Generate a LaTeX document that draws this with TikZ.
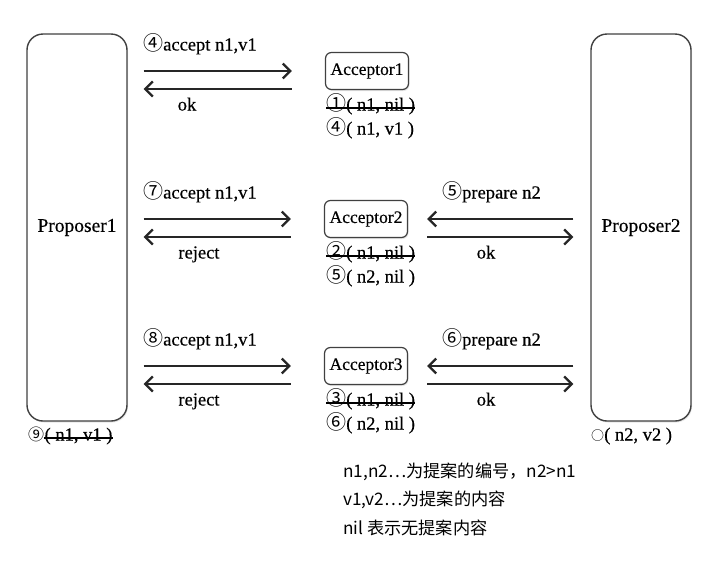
\documentclass[tikz,border=0pt]{standalone}
\usepackage{fontspec}
\setmainfont{Liberation Serif}[FakeBold=0.35]
\newfontfamily\cjk{Noto Sans CJK SC}
\usetikzlibrary{arrows.meta,calc,shadows}
\newcommand{\cn}[1]{{\cjk\fontsize{20}{22}\selectfont #1}}
\begin{document}
\begin{tikzpicture}[x=1pt,y=-1pt,
  prop/.style={draw=black!75, line width=1.4pt, rounded corners=16pt, fill=white,
    minimum width=100pt, minimum height=387pt, font=\fontsize{19.5}{22}\selectfont,
    drop shadow={opacity=0.2, shadow xshift=1pt, shadow yshift=-1.5pt}},
  acc/.style={draw=black!75, line width=1.2pt, rounded corners=6pt, fill=white,
    minimum width=83pt, minimum height=37pt, font=\fontsize{17.5}{20}\selectfont,
    drop shadow={opacity=0.2, shadow xshift=1pt, shadow yshift=-1.5pt}},
  lbl/.style={font=\fontsize{18.5}{21}\selectfont, inner sep=0pt, text height=0.72em, text depth=0.22em},
  leg/.style={font=\cjk\fontsize{17.2}{20}\selectfont, inner sep=0pt, anchor=west},
  msg/.style={line width=1.5pt, draw=black!85, -{Straight Barb[length=7.5pt,width=15pt,line width=2.3pt]}},
  strike/.style={line width=1.2pt}]
\useasboundingbox (0,0) rectangle (720,571);

% proposers
\node[prop] (p1) at (77,227.5) {Proposer1};
\node[prop] (p2) at (641,227.5) {Proposer2};

% acceptors
\node[acc] (a1) at (367,71) {Acceptor1};
\node[acc] (a2) at (366,219) {Acceptor2};
\node[acc] (a3) at (366,366) {Acceptor3};

% row 1
\draw[msg] ([xshift=16pt]p1.east |- a1.west) -- ($(a1.west)+(-33,0)$);
\draw[msg] ($(a1.west)+(-33,18)$) -- ($(p1.east |- a1.west)+(16,18)$);
\node[lbl, anchor=west] (t1) at (143,48) {\cn{④}accept n1,v1};
\node[lbl] (t1b) at (187,108) {ok};
\node[lbl, anchor=west] (s1) at (326,108) {\cn{①}( n1, nil )};
\draw[strike] (s1.west) -- (s1.east);
\node[lbl, anchor=west] (s1b) at (326,132) {\cn{④}( n1, v1 )};

% row 2
\draw[msg] ([xshift=16pt]p1.east |- a2.west) -- ($(a2.west)+(-33,0)$);
\draw[msg] ($(a2.west)+(-33,18)$) -- ($(p1.east |- a2.west)+(16,18)$);
\node[lbl, anchor=west] (t2) at (143,196) {\cn{⑦}accept n1,v1};
\node[lbl] (t2b) at (199,256) {reject};
\draw[msg] ($(p2.west |- a2.east)+(-17,0)$) -- ($(a2.east)+(19,0)$);
\draw[msg] ($(a2.east)+(19,18)$) -- ($(p2.west |- a2.east)+(-17,18)$);
\node[lbl, anchor=west] (u2) at (442,196) {\cn{⑤}prepare n2};
\node[lbl] (u2b) at (486,256) {ok};
\node[lbl, anchor=west] (s2) at (326,256) {\cn{②}( n1, nil )};
\draw[strike] (s2.west) -- (s2.east);
\node[lbl, anchor=west] (s2b) at (326,280) {\cn{⑤}( n2, nil )};

% row 3
\draw[msg] ([xshift=16pt]p1.east |- a3.west) -- ($(a3.west)+(-33,0)$);
\draw[msg] ($(a3.west)+(-33,18)$) -- ($(p1.east |- a3.west)+(16,18)$);
\node[lbl, anchor=west] (t3) at (143,343) {\cn{⑧}accept n1,v1};
\node[lbl] (t3b) at (199,403) {reject};
\draw[msg] ($(p2.west |- a3.east)+(-17,0)$) -- ($(a3.east)+(19,0)$);
\draw[msg] ($(a3.east)+(19,18)$) -- ($(p2.west |- a3.east)+(-17,18)$);
\node[lbl, anchor=west] (u3) at (442,343) {\cn{⑥}prepare n2};
\node[lbl] (u3b) at (486,403) {ok};
\node[lbl, anchor=west] (s3) at (326,403) {\cn{③}( n1, nil )};
\draw[strike] (s3.west) -- (s3.east);
\node[lbl, anchor=west] (s3b) at (326,427) {\cn{⑥}( n2, nil )};

% proposer results
\node[lbl, anchor=west, font=\cjk\fontsize{16}{18}\selectfont] (n9) at (28,438) {⑨};
\node[lbl, anchor=west] (r1) at (n9.east) {( n1, v1 )};
\draw[strike] (r1.west) -- (r1.east);
\node[lbl, anchor=west] (r2) at (591,438) {{\cjk\fontsize{13}{15}\selectfont ○}( n2, v2 )};

% legend
\node[leg] (g1) at (343,472) {n1,n2…为提案的编号，n2>n1};
\node[leg] (g2) at (343,500) {v1,v2…为提案的内容};
\node[leg] (g3) at (343,528) {nil 表示无提案内容};
\end{tikzpicture}
\end{document}
